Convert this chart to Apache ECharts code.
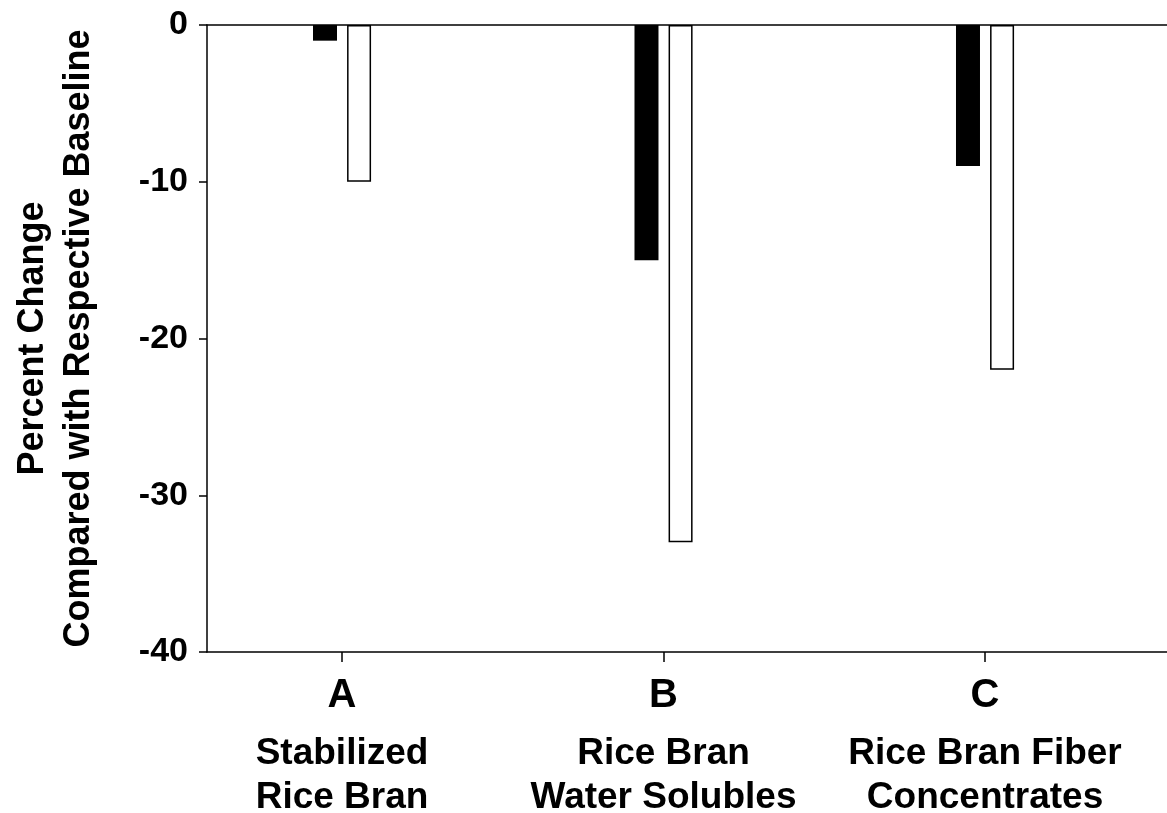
<!DOCTYPE html>
<html>
<head>
<meta charset="utf-8">
<script src="https://cdn.jsdelivr.net/npm/echarts@6/dist/echarts.min.js"></script>
<style>
  html, body { margin: 0; padding: 0; background: #fff; }
  #chart { width: 1167px; height: 813px; }
</style>
</head>
<body>
<div id="chart"></div>
<script>
// ---- data ----
const groupLetters = ['A', 'B', 'C'];
const groupNames = ['Stabilized\nRice Bran', 'Rice Bran\nWater Solubles', 'Rice Bran Fiber\nConcentrates'];
const blackValues = [-1, -15, -9];
const whiteValues = [-10, -33, -22];
const yTicks = [0, -10, -20, -30, -40];

const FONT = '"Liberation Sans", Arial, Helvetica, sans-serif';
const positions = groupLetters.map((_, i) => i + 1);

const chart = echarts.init(document.getElementById('chart'), null, { renderer: 'canvas' });

const option = {
  backgroundColor: '#ffffff',
  animation: false,
  grid: { left: 207, right: 0, top: 25, bottom: 161, outerBoundsMode: 'none', containLabel: false },
  xAxis: [
    {
      type: 'value',
      min: 0.58,
      max: 3.566,
      position: 'bottom',
      axisLine: { show: true, onZero: false, lineStyle: { color: '#000', width: 1.5 } },
      splitLine: { show: false },
      axisTick: { show: true, customValues: positions, length: 10, lineStyle: { color: '#000', width: 1.5 } },
      axisLabel: {
        show: true,
        customValues: positions,
        margin: 8,
        color: '#000',
        fontFamily: FONT,
        formatter: function (v) {
          const i = Math.round(v) - 1;
          if (i < 0 || i >= groupLetters.length) return '';
          const lines = groupNames[i].split('\n');
          return '{big|' + groupLetters[i] + '}\n' + lines.map(l => '{small|' + l + '}').join('\n');
        },
        rich: {
          big: { fontSize: 40, fontWeight: 'bold', fontFamily: FONT, color: '#000', lineHeight: 72, align: 'center' },
          small: { fontSize: 37, fontWeight: 'bold', fontFamily: FONT, color: '#000', lineHeight: 44, align: 'center' }
        }
      }
    },
    {
      type: 'value',
      min: 0.58,
      max: 3.566,
      position: 'top',
      axisLine: { show: true, onZero: false, lineStyle: { color: '#000', width: 1.5 } },
      axisTick: { show: false },
      axisLabel: { show: false },
      splitLine: { show: false }
    }
  ],
  yAxis: {
    type: 'value',
    min: -40,
    max: 0,
    interval: 10,
    axisLine: { show: true, lineStyle: { color: '#000', width: 1.5 } },
    axisTick: { show: true, length: 8, lineStyle: { color: '#000', width: 1.5 } },
    splitLine: { show: false },
    axisLabel: {
      margin: 19,
      color: '#000',
      fontSize: 34,
      fontWeight: 'bold',
      fontFamily: FONT,
      padding: [10, 0, 0, 0],
      formatter: function (v) { return yTicks.indexOf(v) >= 0 ? String(v) : ''; }
    },
    name: '{a|Percent Change}\n{b|Compared with Respective Baseline}',
    nameLocation: 'middle',
    nameRotate: 90,
    nameGap: 106,
    nameTextStyle: {
      fontFamily: FONT,
      color: '#000',
      rich: {
        a: { fontSize: 36, fontWeight: 'bold', fontFamily: FONT, color: '#000', lineHeight: 48, align: 'center' },
        b: { fontSize: 36, fontWeight: 'bold', fontFamily: FONT, color: '#000', lineHeight: 44, align: 'center' }
      }
    }
  },
  series: [
    {
      type: 'bar',
      xAxisIndex: 0,
      data: positions.map((p, i) => [p, blackValues[i]]),
      barWidth: 24,
      barGap: '42%',
      itemStyle: { color: '#000', borderColor: '#000', borderWidth: 0 }
    },
    {
      type: 'bar',
      xAxisIndex: 0,
      data: positions.map((p, i) => [p, whiteValues[i]]),
      barWidth: 24,
      barGap: '42%',
      itemStyle: { color: '#fff', borderColor: '#000', borderWidth: 1.5 }
    }
  ]
};

chart.setOption(option);
</script>
</body>
</html>
